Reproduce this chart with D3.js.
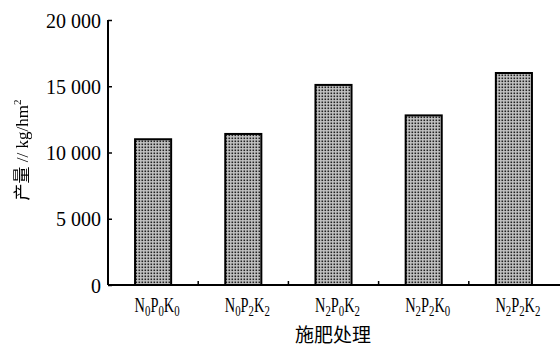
<!DOCTYPE html>
<html>
<head>
<meta charset="utf-8">
<script src="https://cdn.jsdelivr.net/npm/d3@7"></script>
<style>
  body { margin: 0; background: #fff; }
  svg { display: block; }
</style>
</head>
<body>
<svg id="chart"></svg>
<script>
// treatment codes: [N, P, K] subscripts
const treatments = [['0', '0', '0'], ['0', '2', '2'], ['2', '0', '2'], ['2', '2', '0'], ['2', '2', '2']];
const yields = [11000, 11400, 15100, 12800, 16000];
const yTicks = [0, 5000, 10000, 15000, 20000];

const W = 560, H = 349;
const margin = { top: 20, right: 0, bottom: 64, left: 108 };
const width = W - margin.left - margin.right;
const height = H - margin.top - margin.bottom;

const svg = d3.select('#chart').attr('width', W).attr('height', H);

const defs = svg.append('defs');
const pat = defs.append('pattern')
  .attr('id', 'dots')
  .attr('patternUnits', 'userSpaceOnUse')
  .attr('width', 3).attr('height', 3);
pat.append('rect').attr('width', 3).attr('height', 3).attr('fill', '#c4c4c4');
pat.append('rect').attr('x', 0.5).attr('y', 0.5).attr('width', 1.6).attr('height', 1.6).attr('fill', '#222');

// grayscale filter for the rotated title (avoids colour fringes)
defs.append('filter').attr('id', 'gray')
  .append('feColorMatrix').attr('type', 'saturate').attr('values', 0);

const g = svg.append('g').attr('transform', `translate(${margin.left},${margin.top})`);

const keys = treatments.map(d => d.join(''));
const x = d3.scaleBand().domain(keys).range([0, width - 1]).paddingInner(0.6).paddingOuter(0.3);
const y = d3.scaleLinear().domain([0, 20000]).range([height, 0]);

// bars
g.selectAll('.bar')
  .data(yields)
  .join('rect')
  .attr('class', 'bar')
  .attr('x', (d, i) => x(keys[i]))
  .attr('y', d => y(d))
  .attr('width', x.bandwidth())
  .attr('height', d => height - y(d))
  .attr('fill', 'url(#dots)')
  .attr('stroke', '#000')
  .attr('stroke-width', 2);

// y axis
const yAxis = g.append('g')
  .call(d3.axisRight(y).tickValues(yTicks).tickSize(4).tickFormat(''));
yAxis.select('.domain').attr('stroke-width', 2).attr('d', `M0,0V${height}`);
yAxis.selectAll('.tick line').attr('stroke-width', 1.5);
yAxis.selectAll('.tick').append('text')
  .attr('x', -7).attr('dy', '0.35em')
  .attr('text-anchor', 'end')
  .attr('fill', '#000')
  .style('font-family', '"Liberation Serif", serif')
  .style('font-size', '20px')
  .text(d => d === 0 ? '0' : `${Math.floor(d / 1000)} 000`);

// x axis with minor ticks between categories
const step = x.step();
const bounds = keys.slice(1).map(k => x(k) - (step - x.bandwidth()) / 2);
const xAxis = g.append('g').attr('transform', `translate(0,${height})`);
xAxis.append('line')
  .attr('x1', 0).attr('x2', width)
  .attr('stroke', '#000').attr('stroke-width', 2);
xAxis.selectAll('.minor')
  .data(bounds)
  .join('line')
  .attr('x1', d => d).attr('x2', d => d)
  .attr('y1', 0).attr('y2', -4)
  .attr('stroke', '#000').attr('stroke-width', 1.5);

// category labels with subscripts (condensed serif)
const lab = xAxis.selectAll('.lab')
  .data(treatments)
  .join('text')
  .attr('class', 'lab')
  .attr('transform', (d, i) => `translate(${x(keys[i]) + x.bandwidth() / 2 + 4},27) scale(0.72,1)`)
  .attr('text-anchor', 'middle')
  .attr('fill', '#000')
  .style('font-family', '"Liberation Serif", serif')
  .style('font-size', '20px');
lab.each(function(d) {
  const t = d3.select(this);
  ['N', 'P', 'K'].forEach((c, j) => {
    t.append('tspan').attr('dy', j === 0 ? 0 : -4).text(c);
    t.append('tspan').attr('dy', 4).style('font-size', '15px').text(d[j]);
  });
});

// axis titles
svg.append('text')
  .attr('x', 333).attr('y', 342)
  .attr('text-anchor', 'middle')
  .attr('fill', '#000')
  .style('font-family', '"Noto Sans CJK SC", sans-serif')
  .style('font-size', '19px')
  .text('施肥处理');

const yt = svg.append('g').attr('filter', 'url(#gray)')
  .append('text')
  .attr('transform', 'translate(28,150) rotate(-90)')
  .attr('text-anchor', 'middle')
  .attr('fill', '#000')
  .style('font-size', '17px');
yt.append('tspan').style('font-family', '"Noto Sans CJK SC", sans-serif').text('产量');
yt.append('tspan').style('font-family', '"Liberation Serif", serif').text(' // kg/hm');
yt.append('tspan').style('font-family', '"Liberation Serif", serif').style('font-size', '11px').attr('dy', -7).text('2');
</script>
</body>
</html>
